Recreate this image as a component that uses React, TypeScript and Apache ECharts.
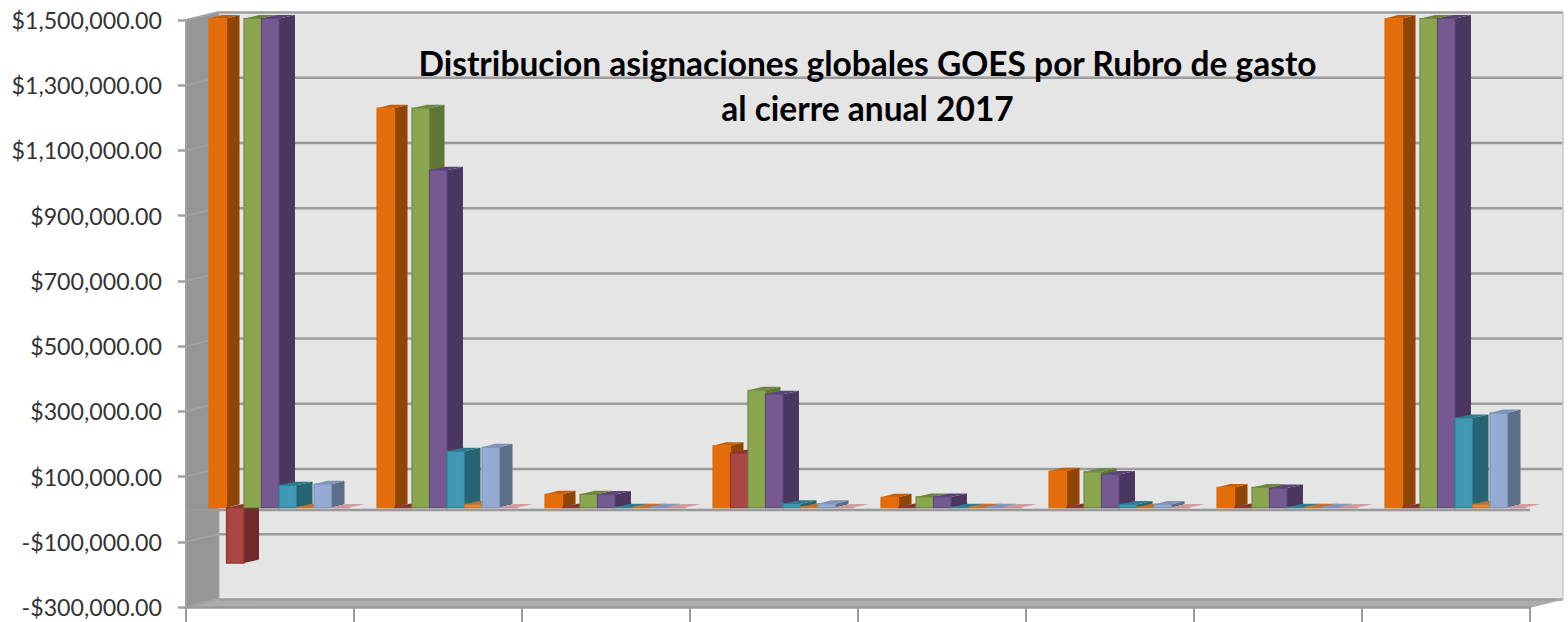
import React, { useEffect, useRef } from "react";
import * as echarts from "echarts";

const categories = ["1", "2", "3", "4", "5", "6", "7", "8"];
const yTicks = [-300000, -100000, 100000, 300000, 500000, 700000, 900000, 1100000, 1300000, 1500000];
const titleText = "Distribucion asignaciones globales GOES por Rubro de gasto\nal cierre anual 2017";

const serieA = [1500000, 1225000, 41000, 190000, 32000, 112000, 62000, 1500000];
const serieB = [-170000, 1000, 1000, 167000, 1000, 1000, 1000, 1000];
const serieC = [1500000, 1225000, 41000, 360000, 33000, 110000, 62000, 1500000];
const serieD = [1500000, 1035000, 40000, 348000, 33000, 102000, 60000, 1500000];
const serieE = [69000, 173000, 1000, 12000, 1000, 10000, 1000, 275000];
const serieF = [1000, 10000, 1000, 2000, 1000, 1000, 1000, 10000];
const serieG = [72000, 185000, 1000, 12000, 1000, 10000, 1000, 290000];
const serieH = [500, 500, 500, 500, 500, 500, 500, 500];

const allSeries = [serieA, serieB, serieC, serieD, serieE, serieF, serieG, serieH];

const palette = [
  { front: "#E46C0A", side: "#8F4506", top: "#C65D08", edge: "#E46C0A", depth: 13 },
  { front: "#AA4643", side: "#6E2B2A", top: "#8B3230", edge: "#8E3533", depth: 15 },
  { front: "#8CA650", side: "#5F7635", top: "#6C8840", edge: "#6E8A3E", depth: 15 },
  { front: "#745A91", side: "#4A3760", top: "#5A4476", edge: "#5E4879", depth: 16 },
  { front: "#4198B2", side: "#276474", top: "#2F7A8E", edge: "#307F96", depth: 16 },
  { front: "#E08A45", side: "#A85F20", top: "#BF7030", edge: "#C9742C", depth: 15 },
  { front: "#95ABD3", side: "#5D6E88", top: "#8094B5", edge: "#7F95BA", depth: 13 },
  { front: "#D9A5A3", side: "#B98886", top: "#CF9C9A", edge: "#C49392", depth: 15 },
];

const DEPTH_X = 33;
const DEPTH_Y = -8;
const BAR_W = 17.5;
const BAR_START = 23;
const BAR_LIFT = -1.5;
const BAR_TOP_DY = -3.5;
const GRID_COLOR = "#9C9C9C";

function wallsRender(_p: any, api: any) {
  const band = api.size([1, 0])[0];
  const left = api.coord([0, 0])[0] - band / 2;
  const right = left + band * categories.length;
  const top = api.coord([0, 1500000])[1];
  const bottom = api.coord([0, -300000])[1];
  const zero = api.coord([0, 0])[1] + 0.8;
  const poly = (pts: number[][], fill: string) => ({ type: "polygon", shape: { points: pts }, style: { fill, stroke: "none" } });
  const line = (x1: number, y1: number, x2: number, y2: number, stroke: string, lineWidth: number) => ({
    type: "line",
    shape: { x1, y1, x2, y2 },
    style: { stroke, lineWidth },
  });
  return {
    type: "group",
    children: [
      poly([[left + DEPTH_X, top + DEPTH_Y], [right + DEPTH_X, top + DEPTH_Y], [right + DEPTH_X, bottom + DEPTH_Y], [left + DEPTH_X, bottom + DEPTH_Y]], "#E5E5E5"),
      poly([[left, top], [left + DEPTH_X, top + DEPTH_Y], [left + DEPTH_X, bottom + DEPTH_Y], [left, bottom]], "#969696"),
      poly([[left, bottom], [right, bottom], [right + DEPTH_X, bottom + DEPTH_Y], [left + DEPTH_X, bottom + DEPTH_Y]], "#ADADAD"),
      ...yTicks.map((t) => {
        const y = api.coord([0, t])[1];
        return line(left + DEPTH_X, y + DEPTH_Y + 0.5, right + DEPTH_X, y + DEPTH_Y + 0.5, GRID_COLOR, 2.5);
      }),
      ...yTicks.map((t) => {
        const y = api.coord([0, t])[1];
        return line(left, y, left + DEPTH_X, y + DEPTH_Y, "#A2A2A2", 2);
      }),
      line(right + DEPTH_X, top + DEPTH_Y, right + DEPTH_X, bottom + DEPTH_Y, "#C8C8C8", 1.5),
      line(left + DEPTH_X, top + DEPTH_Y, left + DEPTH_X, bottom + DEPTH_Y, "#A8A8A8", 1),
      line(right, bottom, right + DEPTH_X, bottom + DEPTH_Y, "#A8A8A8", 1.5),
      line(left, zero, right, zero, "#999999", 2.5),
    ],
  };
}

function barRender(seriesIndex: number) {
  return (_p: any, api: any) => {
    const style = palette[seriesIndex];
    const band = api.size([1, 0])[0];
    const center = api.coord([api.value(0), 0]);
    const x = center[0] - band / 2 + BAR_START + BAR_W * seriesIndex;
    const y0 = center[1] + BAR_LIFT;
    const yv = api.coord([api.value(0), api.value(1)])[1] + BAR_LIFT;
    const yTop = Math.min(y0, yv);
    const yBot = Math.max(y0, yv);
    const d = style.depth;
    const w = BAR_W;
    return {
      type: "group",
      children: [
        {
          type: "polygon",
          shape: { points: [[x + w, yTop], [x + w, yBot], [x + w + d, yBot + BAR_TOP_DY], [x + w + d, yTop + BAR_TOP_DY]] },
          style: { fill: style.side },
        },
        {
          type: "polygon",
          shape: { points: [[x, yTop], [x + w, yTop], [x + w + d, yTop + BAR_TOP_DY], [x + d, yTop + BAR_TOP_DY]] },
          style: { fill: style.top },
        },
        {
          type: "rect",
          shape: { x, y: yTop, width: w, height: yBot - yTop },
          style: { fill: style.front, stroke: style.edge, lineWidth: 1.2 },
        },
      ],
    };
  };
}

export default function App() {
  const ref = useRef<HTMLDivElement>(null);
  useEffect(() => {
    const chart = echarts.init(ref.current!, undefined, { renderer: "svg" });
    chart.setOption({
      animation: false,
      backgroundColor: "#FFFFFF",
      title: {
        text: titleText,
        left: 862.5,
        top: 35,
        textAlign: "center",
        textStyle: { fontFamily: "Lato", fontWeight: "bold", fontSize: 33.5, lineHeight: 45, color: "#000000" },
      },
      grid: { left: 186, right: 38, top: 20, bottom: 15, containLabel: false },
      xAxis: {
        type: "category",
        data: categories,
        boundaryGap: true,
        axisLine: { onZero: false, lineStyle: { color: "#999999", width: 2.5 } },
        axisTick: { show: true, length: 15, lineStyle: { color: "#999999", width: 2 } },
        axisLabel: { show: false },
        splitLine: { show: false },
      },
      yAxis: {
        type: "value",
        min: -300000,
        max: 1500000,
        interval: 200000,
        axisLine: { show: true, lineStyle: { color: "#A2A2A2", width: 2 } },
        axisTick: { show: true, length: 8, lineStyle: { color: "#A2A2A2", width: 2.5 } },
        splitLine: { show: false },
        axisLabel: {
          margin: 24,
          fontFamily: "Lato",
          fontSize: 23.2,
          color: "#333333",
          padding: [1, 0, 0, 0],
          formatter: (v: number) =>
            (v < 0 ? "-$" : "$") + Math.abs(v).toLocaleString("en-US", { minimumFractionDigits: 2, maximumFractionDigits: 2 }),
        },
      },
      series: [
        {
          type: "custom",
          z: -1,
          silent: true,
          renderItem: wallsRender,
          data: [[0, 0]],
          encode: { x: 0, y: 1 },
        },
        ...allSeries.map((values, i) => ({
          type: "custom",
          z: 2 + i,
          silent: true,
          renderItem: barRender(i),
          data: values.map((v, c) => [c, v]),
          encode: { x: 0, y: 1 },
        })),
      ],
    });
    return () => chart.dispose();
  }, []);
  return <div ref={ref} style={{ position: "absolute", left: 0, top: 0, width: 1568, height: 622 }} />;
}
